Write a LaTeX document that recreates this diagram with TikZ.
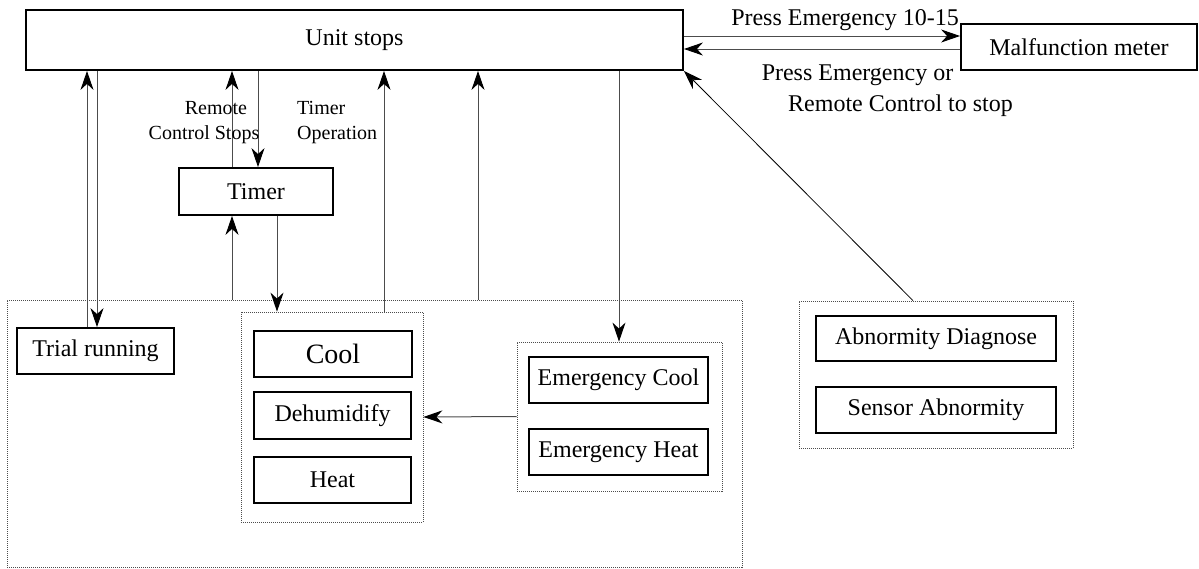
\documentclass[tikz,border=0pt]{standalone}
\usepackage{fontspec}
\setmainfont{Liberation Serif}
\newfontfamily\tnr{Liberation Serif}
\usetikzlibrary{arrows.meta}
\begin{document}
\begin{tikzpicture}[x=1pt,y=-1pt,
  box/.style={draw=black,line width=1.8pt,inner sep=0pt,font=\tnr\fontsize{24}{28}\selectfont},
  grp/.style={draw=black!70,line width=0.8pt,dash pattern=on 1pt off 1pt,inner sep=0pt},
  tipa/.tip={Stealth[length=19pt,width=13pt,inset=6pt,color=black]},
  arr/.style={draw=black!70,line width=1pt,-tipa},
  lbl/.style={font=\tnr\fontsize{24}{28}\selectfont,inner sep=0pt},
  slbl/.style={font=\tnr\fontsize{20}{23}\selectfont,inner sep=0pt}]
\useasboundingbox (0,0) rectangle (1199,568);
% groups
\node[grp,minimum width=735pt,minimum height=267pt] (outer) at (374.5,433.5) {};
\node[grp,minimum width=182pt,minimum height=210pt] (coolg) at (332,417) {};
\node[grp,minimum width=205pt,minimum height=149pt] (emg) at (619.5,416.5) {};
\node[grp,minimum width=274pt,minimum height=147pt] (abng) at (936,374.5) {};
% boxes
\node[box,minimum width=657pt,minimum height=60pt] (unit) at (354.5,40) {Unit stops};
\node[box,minimum width=236pt,minimum height=46pt] (mal) at (1079,47) {Malfunction meter};
\node[box,minimum width=154pt,minimum height=47pt] (timer) at (256,191.5) {Timer};
\node[box,minimum width=157pt,minimum height=46pt] (trial) at (95.5,351) {Trial running};
\node[box,minimum width=158pt,minimum height=46pt,font=\tnr\fontsize{28}{32}\selectfont] (cool) at (333,354) {Cool};
\node[box,minimum width=157pt,minimum height=47pt] (dehum) at (332.5,415.5) {Dehumidify};
\node[box,minimum width=157pt,minimum height=46pt] (heat) at (332.5,480) {Heat};
\node[box,minimum width=179pt,minimum height=46pt] (emcool) at (618.5,380) {Emergency Cool};
\node[box,minimum width=179pt,minimum height=46pt] (emheat) at (618.5,452) {Emergency Heat};
\node[box,minimum width=240pt,minimum height=45pt] (abnd) at (936,338.5) {Abnormity Diagnose};
\node[box,minimum width=240pt,minimum height=46pt] (sensor) at (936,410) {Sensor Abnormity};
% column coordinates
\coordinate (c1) at (87,0);
\coordinate (c2) at (97,0);
\coordinate (c3) at (232,0);
\coordinate (c4) at (258,0);
\coordinate (c5) at (277,0);
\coordinate (c6) at (384,0);
\coordinate (c7) at (478,0);
\coordinate (c8) at (619,0);
\coordinate (cd) at (913,0);
\coordinate (ya) at (0,36);
\coordinate (yb) at (0,49);
% connectors
\draw[arr] (trial.north -| c1) -- (unit.south -| c1);
\draw[arr] (unit.south -| c2) -- (trial.north -| c2);
\draw[arr] (timer.north -| c3) -- (unit.south -| c3);
\draw[arr] (unit.south -| c4) -- (timer.north -| c4);
\draw[arr] (outer.north -| c3) -- (timer.south -| c3);
\draw[arr] (timer.south -| c5) -- (coolg.north -| c5);
\draw[arr] (coolg.north -| c6) -- (unit.south -| c6);
\draw[arr] (outer.north -| c7) -- (unit.south -| c7);
\draw[arr] (unit.south -| c8) -- (emg.north -| c8);
\draw[arr] (emg.west) -- (coolg.east);
\draw[arr,draw=black,line width=0.8pt] (abng.north -| cd) -- (unit.south east);
\draw[arr] (unit.east |- ya) -- (mal.west |- ya);
\draw[arr] (mal.west |- yb) -- (unit.east |- yb);
% labels
\node[lbl] (l1) at (845,20) {Press Emergency 10-15};
\node[lbl] (l2) at (857.5,75) {Press Emergency or};
\node[lbl] (l3) at (900.5,106) {Remote Control to stop};
\node[slbl] (l4) at (216,108) {Remote};
\node[slbl] (l5) at (204,135) {Control Stops};
\node[slbl,anchor=west] (l6) at (297,108) {Timer};
\node[slbl,anchor=west] (l7) at (297,135) {Operation};
\end{tikzpicture}
\end{document}
